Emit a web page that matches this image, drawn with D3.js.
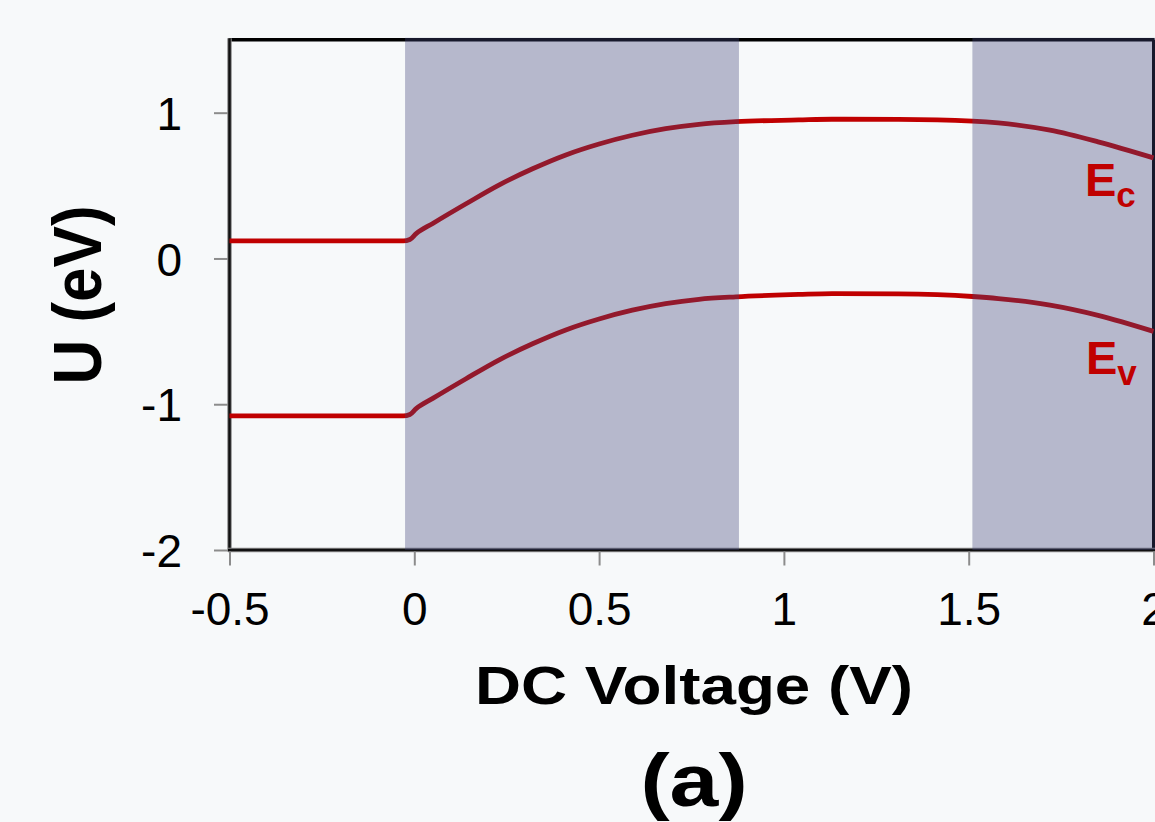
<!DOCTYPE html>
<html>
<head>
<meta charset="utf-8">
<script src="https://cdn.jsdelivr.net/npm/d3@7"></script>
<style>
  html, body { margin: 0; padding: 0; background: #f7f9fa; }
  svg { display: block; }
  text { font-family: "Liberation Sans", Arial, sans-serif; }
</style>
</head>
<body>
<svg id="chart" width="1155" height="822"></svg>
<script>
// ---- data ----
const voltage = [-0.5, -0.03, -0.012, 0.005, 0.05, 0.14, 0.23, 0.32, 0.41, 0.5, 0.59, 0.68, 0.77, 0.87, 1.04, 1.13, 1.31, 1.51, 1.58, 1.72, 1.85, 2.0];
const ecValues = [0.12, 0.12, 0.13, 0.17, 0.24, 0.375, 0.505, 0.615, 0.71, 0.785, 0.845, 0.89, 0.92, 0.938, 0.95, 0.955, 0.954, 0.942, 0.93, 0.88, 0.80, 0.69];
const evValues = [-1.08, -1.08, -1.07, -1.03, -0.96, -0.825, -0.695, -0.585, -0.49, -0.415, -0.355, -0.31, -0.28, -0.263, -0.247, -0.241, -0.243, -0.261, -0.275, -0.32, -0.39, -0.50];
const bandStarts = [-0.025, 1.51];
const bandEnds = [0.873, 2.0];
const xTickValues = [-0.5, 0, 0.5, 1, 1.5, 2];
const xTickLabels = ["-0.5", "0", "0.5", "1", "1.5", "2"];
const yTickValues = [1, 0, -1, -2];
const yTickLabels = ["1", "0", "-1", "-2"];
const xTitle = "DC Voltage (V)";
const yTitle = "U (eV)";
const panelLabel = "(a)";

// ---- layout ----
const svg = d3.select("#chart");
const x = d3.scaleLinear().domain([-0.5, 2]).range([229.5, 1153.5]);
const y = d3.scaleLinear().domain([-2, 1.5]).range([550, 39.8]);

const lineColor = "#c00000";

// frame
const frame = svg.append("g");
frame.append("line").attr("x1", x(-0.5)).attr("x2", x(2) + 1).attr("y1", y(1.5)).attr("y2", y(1.5))
  .attr("stroke", "#000").attr("stroke-width", 3.5);
frame.append("line").attr("x1", x(2)).attr("x2", x(2)).attr("y1", y(1.5)).attr("y2", y(-2))
  .attr("stroke", "#000").attr("stroke-width", 3);
frame.append("line").attr("x1", x(-0.5)).attr("x2", x(-0.5)).attr("y1", y(1.5) - 1.5).attr("y2", y(-2) + 1.5)
  .attr("stroke", "#8a8a8a").attr("stroke-width", 4.5);
frame.append("line").attr("x1", x(-0.5)).attr("x2", x(-0.5)).attr("y1", y(1.5) - 1.5).attr("y2", y(-2) + 1.5)
  .attr("stroke", "#111").attr("stroke-width", 2.5);
frame.append("line").attr("x1", x(-0.5) - 1.5).attr("x2", x(2) + 2).attr("y1", y(-2)).attr("y2", y(-2))
  .attr("stroke", "#8a8a8a").attr("stroke-width", 4.5);
frame.append("line").attr("x1", x(-0.5) - 1.5).attr("x2", x(2) + 2).attr("y1", y(-2)).attr("y2", y(-2))
  .attr("stroke", "#111").attr("stroke-width", 2.5);

// axes
const yAxis = d3.axisLeft(y).tickValues(yTickValues)
  .tickFormat((d, i) => yTickLabels[i]).tickSize(14).tickSizeOuter(0).tickPadding(32);
const gy = svg.append("g").attr("transform", `translate(${x(-0.5) - 1.5},0)`).call(yAxis);
gy.select(".domain").remove();
gy.selectAll(".tick line").attr("stroke", "#8c8c8c").attr("stroke-width", 2);
gy.selectAll(".tick text").attr("font-size", 46).attr("fill", "#000")
  .attr("font-family", "'Liberation Sans', Arial, sans-serif").attr("dy", "0.36em");

const xAxis = d3.axisBottom(x).tickValues(xTickValues)
  .tickFormat((d, i) => xTickLabels[i]).tickSize(14).tickSizeOuter(0).tickPadding(27);
const gx = svg.append("g").attr("transform", `translate(0,${y(-2) + 1.5})`).call(xAxis);
gx.select(".domain").remove();
gx.selectAll(".tick line").attr("stroke", "#8c8c8c").attr("stroke-width", 2);
gx.selectAll(".tick text").attr("font-size", 46).attr("fill", "#000")
  .attr("font-family", "'Liberation Sans', Arial, sans-serif");

// lines
const lineGen = (vals) => d3.line()
  .x((d, i) => x(voltage[i]))
  .y((d) => y(d))
  .curve(d3.curveMonotoneX)(vals);

[ecValues, evValues].forEach(vals => {
  svg.append("path").attr("d", lineGen(vals))
    .attr("fill", "none").attr("stroke", lineColor).attr("stroke-width", 4.8)
    .attr("stroke-linejoin", "round");
});

// shaded bands (drawn over the lines, semi-transparent)
bandStarts.forEach((s, i) => {
  svg.append("rect")
    .attr("x", x(s)).attr("width", x(bandEnds[i]) - x(s) + 2)
    .attr("y", y(1.5) - 2).attr("height", y(-2) - y(1.5) + 2)
    .attr("fill", "rgb(67,68,122)").attr("fill-opacity", 0.36);
});

// curve labels
function sublabel(xPos, yBase, main, sub, subDy) {
  const t = svg.append("text").attr("x", xPos).attr("y", yBase)
    .attr("fill", lineColor).attr("font-weight", "bold").attr("font-size", 47);
  t.append("tspan").text(main);
  t.append("tspan").attr("font-size", 35).attr("dy", subDy).text(sub);
}
sublabel(1085, 196, "E", "c", 11);
sublabel(1086, 374, "E", "v", 11);

// titles
svg.append("text").attr("transform", "translate(694,704) scale(1.17,1)")
  .attr("text-anchor", "middle").attr("font-weight", "bold").attr("font-size", 54.5)
  .attr("fill", "#000").text(xTitle);
svg.append("text").attr("transform", "translate(101,295) scale(1.1,1) rotate(-90)")
  .attr("text-anchor", "middle").attr("font-weight", "bold").attr("font-size", 62)
  .attr("fill", "#000").text(yTitle);
svg.append("text").attr("transform", "translate(694,806) scale(1.17,1)")
  .attr("text-anchor", "middle").attr("font-weight", "bold").attr("font-size", 75)
  .attr("fill", "#000").text(panelLabel);
</script>
</body>
</html>
